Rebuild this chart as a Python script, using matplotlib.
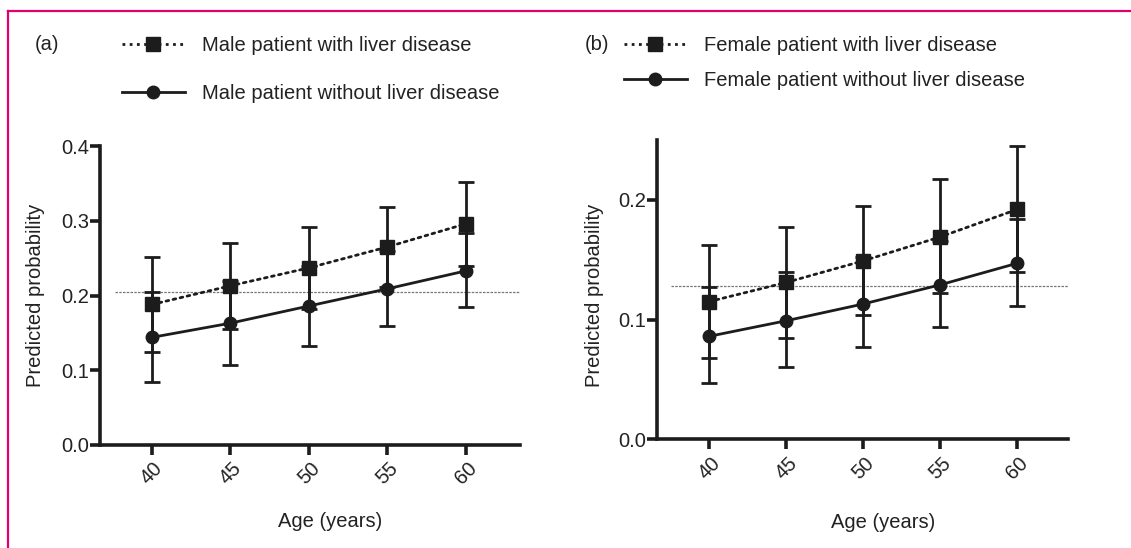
import matplotlib
matplotlib.use("Agg")
import matplotlib.pyplot as plt
from matplotlib.lines import Line2D

plt.rcParams['font.family'] = ['Liberation Sans', 'DejaVu Sans']

ages = [40, 45, 50, 55, 60]
age_labels = ["40", "45", "50", "55", "60"]

male_ld = [0.188, 0.213, 0.237, 0.265, 0.296]
male_ld_lo = [0.124, 0.155, 0.182, 0.212, 0.240]
male_ld_hi = [0.251, 0.270, 0.291, 0.318, 0.352]
male_no = [0.144, 0.163, 0.186, 0.209, 0.233]
male_no_lo = [0.084, 0.107, 0.132, 0.159, 0.185]
male_no_hi = [0.205, 0.220, 0.240, 0.259, 0.284]
male_ref = 0.205

fem_ld = [0.115, 0.131, 0.149, 0.169, 0.192]
fem_ld_lo = [0.0675, 0.085, 0.104, 0.122, 0.140]
fem_ld_hi = [0.162, 0.177, 0.195, 0.2175, 0.245]
fem_no = [0.086, 0.099, 0.113, 0.129, 0.147]
fem_no_lo = [0.047, 0.0605, 0.077, 0.094, 0.111]
fem_no_hi = [0.127, 0.140, 0.152, 0.166, 0.184]
fem_ref = 0.128

male_labels = ["Male patient with liver disease", "Male patient without liver disease"]
fem_labels = ["Female patient with liver disease", "Female patient without liver disease"]

W, H = 1131, 548
fig = plt.figure(figsize=(W / 100, H / 100), dpi=100)

INK = '#1c1c1c'
TXT = '#222222'


def fr(x0, y_top, x1, y_bot):
    return [x0 / W, 1 - y_bot / H, (x1 - x0) / W, (y_bot - y_top) / H]


def panel(rect, xlim, ylim, yticks, ytl, ld, ld_lo, ld_hi, no, no_lo, no_hi, ref, refx, ylab_xy, xlab_xy):
    ax = fig.add_axes(rect)
    ax.set_xlim(*xlim)
    ax.set_ylim(*ylim)
    ax.axhline(ref, xmin=refx, xmax=1.0, color='#777777', lw=0.9, ls=(0, (2, 1)), zorder=1)
    def err(m, lo, hi):
        return [[a - b for a, b in zip(m, lo)], [b - a for a, b in zip(m, hi)]]
    ax.errorbar(ages, ld, yerr=err(ld, ld_lo, ld_hi), color=INK, lw=2.0, ls=(0, (1, 1.6)),
                marker='s', ms=10, capsize=5.5, capthick=2.0, elinewidth=2.0, zorder=3,
                dash_capstyle='round')
    ax.errorbar(ages, no, yerr=err(no, no_lo, no_hi), color=INK, lw=2.0, ls='-',
                marker='o', ms=9, capsize=5.5, capthick=2.0, elinewidth=2.0, zorder=3)
    for s in ['top', 'right']:
        ax.spines[s].set_visible(False)
    for s in ['left', 'bottom']:
        ax.spines[s].set_linewidth(2.6)
        ax.spines[s].set_color(INK)
    ax.set_yticks(yticks)
    ax.set_yticklabels(ytl, fontsize=14.5, color=TXT)
    ax.set_xticks(ages)
    ax.set_xticklabels(age_labels, rotation=45, ha='center', fontsize=14.5, color=TXT)
    ax.tick_params(axis='both', width=2.6, length=7, color=INK)
    ax.tick_params(axis='y', pad=1)
    ax.tick_params(axis='x', pad=3)
    ax.set_ylabel("Predicted probability", fontsize=14.5, color=TXT)
    ax.yaxis.set_label_coords(*ylab_xy)
    ax.set_xlabel("Age (years)", fontsize=14.5, color=TXT)
    ax.xaxis.set_label_coords(*xlab_xy)
    return ax


axa = panel(fr(100, 146, 520, 445), (36.69, 63.44), (0, 0.4), [0, 0.1, 0.2, 0.3, 0.4],
            ["0.0", "0.1", "0.2", "0.3", "0.4"],
            male_ld, male_ld_lo, male_ld_hi, male_no, male_no_lo, male_no_hi, male_ref,
            15 / 420, (-0.131, 0.5), (0.548, -0.225))
axb = panel(fr(657, 140, 1068, 439.3), (36.62, 63.31), (0, 0.25), [0, 0.1, 0.2],
            ["0.0", "0.1", "0.2"],
            fem_ld, fem_ld_lo, fem_ld_hi, fem_no, fem_no_lo, fem_no_hi, fem_ref,
            14 / 411, (-0.129, 0.48), (0.55, -0.245))


def handles():
    h1 = Line2D([], [], color=INK, lw=2.0, ls=(0, (1, 1.6)), marker='s', ms=10)
    h2 = Line2D([], [], color=INK, lw=2.0, ls='-', marker='o', ms=9)
    return [h1, h2]


fig.legend(handles(), male_labels, loc='upper left', bbox_to_anchor=(112 / W, 1 - 26 / H),
           frameon=False, fontsize=14.5, handlelength=3.1, handletextpad=0.85,
           labelspacing=1.45, borderpad=0, labelcolor=TXT)
fig.legend(handles(), fem_labels, loc='upper left', bbox_to_anchor=(614 / W, 1 - 26 / H),
           frameon=False, fontsize=14.5, handlelength=3.1, handletextpad=0.85,
           labelspacing=0.8, borderpad=0, labelcolor=TXT)

fig.text(35 / W, 1 - 44 / H, "(a)", fontsize=14.5, color=TXT, va='center', ha='left')
fig.text(585 / W, 1 - 44 / H, "(b)", fontsize=14.5, color=TXT, va='center', ha='left')

PINK = '#e0006e'
fig.add_artist(Line2D([8 / W, 1.0], [1 - 11 / H, 1 - 11 / H], color=PINK, lw=1.6,
                      transform=fig.transFigure))
fig.add_artist(Line2D([8 / W, 8 / W], [0.0, 1 - 11 / H], color=PINK, lw=1.6,
                      transform=fig.transFigure))

fig.savefig("out.png", dpi=100)
